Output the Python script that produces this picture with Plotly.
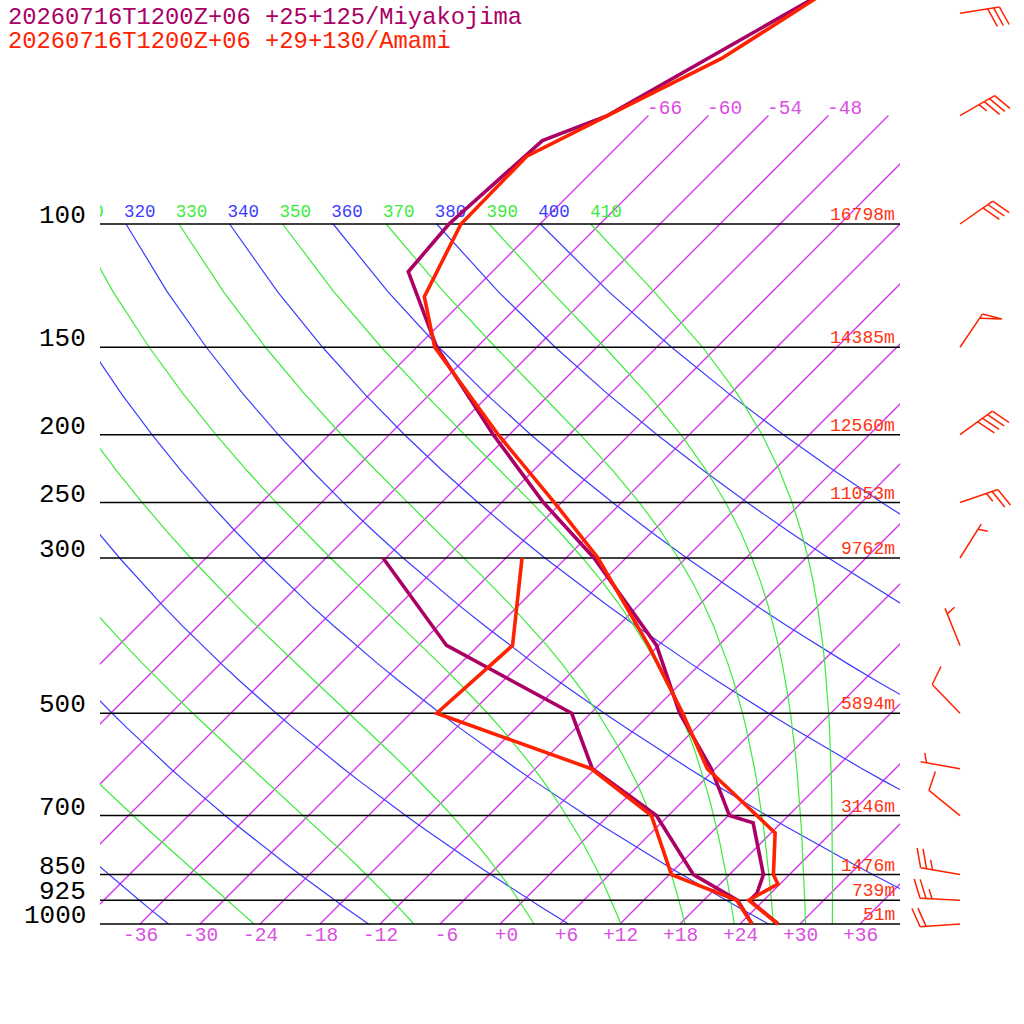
import numpy as np
import plotly.graph_objects as go

# ---------------- data ----------------
TITLE_MIYAKO = "20260716T1200Z+06 +25+125/Miyakojima"
TITLE_AMAMI = "20260716T1200Z+06 +29+130/Amami"

P_LINES = [100, 150, 200, 250, 300, 500, 700, 850, 925, 1000]
P_LABELS = ["100", "150", "200", "250", "300", "500", "700", "850", "925", "1000"]
HEIGHT_LABELS = ["16798m", "14385m", "12560m", "11053m", "9762m", "5894m",
                 "3146m", "1476m", "739m", "51m"]

ISOTHERMS = [-66, -60, -54, -48, -42, -36, -30, -24, -18, -12, -6, 0,
             6, 12, 18, 24, 30, 36]
ISOTHERM_TOP_LABELS = [-66, -60, -54, -48]
BOTTOM_TICKS = [-36, -30, -24, -18, -12, -6, 0, 6, 12, 18, 24, 30, 36]
THETA = [240, 260, 280, 300, 320, 340, 360, 380, 400]
THETA_E = [250, 270, 290, 310, 330, 350, 370, 390, 410]

MIYAKO_T_P = [1000, 925, 903, 850, 717, 700, 600, 500, 400, 300, 250, 200,
              150, 117, 100, 76, 70, 50, 40]
MIYAKO_T = [27.8, 22.6, 22.6, 21.4, 15.2, 12.1, 5.6, -3.1, -12.2, -27.2,
            -37.8, -49.6, -64.0, -74.4, -75.1, -74.1, -70.1, -62.4, -57.2]
MIYAKO_TD_P = [1000, 925, 850, 700, 600, 500, 400, 300]
MIYAKO_TD = [25.2, 21.4, 14.4, 4.8, -6.3, -13.9, -33.2, -48.3]

AMAMI_T_P = [1000, 925, 877, 850, 741, 600, 500, 400, 300, 250, 200, 150,
             127, 100, 80, 58, 50, 40]
AMAMI_T = [27.8, 22.5, 23.8, 22.4, 18.4, 5.2, -2.8, -13.0, -26.8, -36.7,
           -49.1, -64.2, -70.3, -73.9, -74.1, -64.4, -61.8, -58.1]
AMAMI_TD_P = [1000, 925, 850, 700, 600, 500, 400, 300]
AMAMI_TD = [25.2, 21.3, 12.2, 4.3, -6.4, -27.4, -26.6, -34.4]

WIND_P = [1000, 925, 850, 700, 600, 500, 400, 300, 250, 200, 150, 100, 70, 50]
AMAMI_WDIR = [266, 273, 280, 309, 280, 316, 338, 32, 71, 54, 34, 55, 60, 81]
AMAMI_WSPD = [20, 25, 25, 10, 5, 10, 5, 5, 25, 40, 50, 30, 35, 30]

# ---------------- style ----------------
C_MIYAKO = "#aa0066"
C_AMAMI = "#ff2200"
C_ISO = "rgb(216,50,240)"
C_ISO_TXT = "rgb(218,80,226)"
C_DRY = "rgb(60,60,255)"
C_MOIST = "rgb(60,235,60)"
C_HGT = "#ff3311"
FONT = "Liberation Mono"

SKEW = 70.0          # skew units per decade of pressure
PX_X = 10.0          # px per degree
PX_DEC = 700.0       # px per pressure decade


def skew_x(T, p):
    return np.asarray(T, float) + SKEW * np.log10(1000.0 / np.asarray(p, float))


def es(tc):
    return 6.112 * np.exp(17.67 * tc / (tc + 243.5))


def theta_e_sat(tk, p):
    e = es(tk - 273.15)
    r = 1000.0 * 0.622 * e / (p - e)
    return tk * (1000.0 / p) ** (0.2854 * (1 - 0.00028 * r)) * \
        np.exp((3.376 / tk - 0.00254) * r * (1 + 0.00081 * r))


def moist_T(te, p):
    lo = np.full_like(p, 150.0)
    hi = np.full_like(p, 330.0)
    for _ in range(60):
        mid = 0.5 * (lo + hi)
        f = theta_e_sat(mid, p) - te
        hi = np.where(f > 0, mid, hi)
        lo = np.where(f > 0, lo, mid)
    return 0.5 * (lo + hi) - 273.15


fig = go.Figure()
BOX = dict(xaxis="x2", yaxis="y2")

# isotherms
for t in ISOTHERMS:
    pp = [1000.0, 70.0]
    xs = [float(v) for v in skew_x([t, t], pp)]
    fig.add_trace(go.Scatter(x=xs, y=pp, mode="lines",
                             line=dict(color=C_ISO, width=1.3), hoverinfo="skip", **BOX))

lev = np.arange(100.0, 1000.1, 25.0)
for th in THETA:
    tc = th * (lev / 1000.0) ** 0.2857 - 273.15
    fig.add_trace(go.Scatter(x=skew_x(tc, lev).tolist(), y=lev.tolist(), mode="lines",
                             line=dict(color=C_DRY, width=1.2), hoverinfo="skip", **BOX))
for te in THETA_E:
    tc = moist_T(te, lev)
    fig.add_trace(go.Scatter(x=skew_x(tc, lev).tolist(), y=lev.tolist(), mode="lines",
                             line=dict(color=C_MOIST, width=1.2), hoverinfo="skip", **BOX))

# adiabat labels at 100 hPa (clipped by the box)
p_lab = 100.0 * 10 ** (-11.0 / PX_DEC)
for vals, col in ((THETA, C_DRY), (THETA_E, C_MOIST)):
    xs = [float(skew_x(v * 0.1 ** 0.2857 - 273.15, 100.0)) for v in vals]
    keep = [i for i, xv in enumerate(xs) if xv > -43.5]
    fig.add_trace(go.Scatter(x=[xs[i] - 0.2 for i in keep], y=[p_lab] * len(keep), mode="text",
                             text=[str(vals[i]) for i in keep], textposition="middle right",
                             textfont=dict(family=FONT, size=17.5, color=col),
                             hoverinfo="skip", **BOX))

# pressure lines
for p in P_LINES:
    fig.add_trace(go.Scatter(x=[-40, 40], y=[p, p], mode="lines",
                             line=dict(color="black", width=1.5), hoverinfo="skip", **BOX))

# soundings
for pT, T, pD, D, col in ((MIYAKO_T_P, MIYAKO_T, MIYAKO_TD_P, MIYAKO_TD, C_MIYAKO),
                          (AMAMI_T_P, AMAMI_T, AMAMI_TD_P, AMAMI_TD, C_AMAMI)):
    fig.add_trace(go.Scatter(x=skew_x(T, pT).tolist(), y=pT, mode="lines",
                             line=dict(color=col, width=3.6), hoverinfo="skip", **BOX))
    fig.add_trace(go.Scatter(x=skew_x(D, pD).tolist(), y=pD, mode="lines",
                             line=dict(color=col, width=3.6), hoverinfo="skip", **BOX))

# wind barbs (Amami), drawn on the full-page axes
BARB_X = 46.0
STAFF, FULL, HALF, SPACE, TILT = 40.0, 20.0, 10.0, 6.0, np.radians(20)
bx, by = [], []


def to_data(p0, dx, dy):
    return float(BARB_X + dx / PX_X), float(p0 * 10 ** (dy / PX_DEC))


def add_pts(pts):
    for q in pts:
        xx, yy = to_data(p0, *q)
        bx.append(xx); by.append(yy)
    bx.append(None); by.append(None)


for p0, d, s in zip(WIND_P, AMAMI_WDIR, AMAMI_WSPD):
    r = np.radians(d)
    u = np.array([np.sin(r), -np.cos(r)])
    perp = np.array([np.cos(r), np.sin(r)])
    bdir = np.cos(TILT) * perp + np.sin(TILT) * u
    tip = STAFF * u
    add_pts([np.zeros(2), tip])
    n50, rest = divmod(int(s), 50)
    n10, rest = divmod(rest, 10)
    n5 = rest // 5
    pos = 0.0
    for _ in range(n50):
        a = tip - pos * u
        add_pts([a, a + FULL * bdir, a - 5 * u])
        pos += 5 + SPACE
    for _ in range(n10):
        a = tip - pos * u
        add_pts([a, a + FULL * bdir])
        pos += SPACE
    if n5:
        if n50 == 0 and n10 == 0:
            pos = SPACE
        a = tip - pos * u
        add_pts([a, a + HALF * bdir])

fig.add_trace(go.Scatter(x=bx, y=by, mode="lines", line=dict(color=C_AMAMI, width=1.5),
                         hoverinfo="skip", xaxis="x", yaxis="y"))

ann = []
# pressure labels
for p, lab in zip(P_LINES, P_LABELS):
    ann.append(dict(x=-41.2, y=float(np.log10(p)), xref="x", yref="y", text=lab, showarrow=False,
                    xanchor="right", yanchor="middle", yshift=8,
                    font=dict(family=FONT, size=26, color="black")))
# heights
for p, lab in zip(P_LINES, HEIGHT_LABELS):
    ann.append(dict(x=39.7, y=float(np.log10(p)), xref="x", yref="y", text=lab, showarrow=False,
                    xanchor="right", yanchor="middle", yshift=9,
                    font=dict(family=FONT, size=18, color=C_HGT)))
# bottom temperature ticks
for t in BOTTOM_TICKS:
    lab = f"{t:+d}"
    if len(lab) < 3:
        lab = "\u00a0" + lab
    ann.append(dict(x=float(t), y=3.0, xref="x", yref="y", text=lab, showarrow=False,
                    xanchor="center", yanchor="middle", yshift=-12,
                    font=dict(family=FONT, size=19.5, color=C_ISO_TXT)))
# isotherm labels at top
for t in ISOTHERM_TOP_LABELS:
    ann.append(dict(x=float(skew_x(t, 70.0)) - 0.3, y=float(np.log10(70.0)), xref="x", yref="y",
                    text=f"{t:+d}", showarrow=False,
                    xanchor="left", yanchor="middle", yshift=7,
                    font=dict(family=FONT, size=19.5, color=C_ISO_TXT)))
# titles
ann.append(dict(x=6 / 1024, y=1 - 17 / 1024, xref="paper", yref="paper", text=TITLE_MIYAKO,
                showarrow=False, xanchor="left", yanchor="middle",
                font=dict(family=FONT, size=23.8, color=C_MIYAKO)))
ann.append(dict(x=6 / 1024, y=1 - 41 / 1024, xref="paper", yref="paper", text=TITLE_AMAMI,
                showarrow=False, xanchor="left", yanchor="middle",
                font=dict(family=FONT, size=23.8, color=C_AMAMI)))

ax_off = dict(visible=False, showgrid=False, zeroline=False, fixedrange=True)
fig.update_layout(
    width=1024, height=1024, margin=dict(l=0, r=0, t=0, b=0),
    paper_bgcolor="white", plot_bgcolor="rgba(0,0,0,0)", showlegend=False,
    xaxis=dict(domain=[0, 1], range=[-50, 52.4], **ax_off),
    yaxis=dict(domain=[0, 1], type="log", range=[3 + 100 / PX_DEC, 3 - 924 / PX_DEC], **ax_off),
    xaxis2=dict(domain=[100 / 1024, 900 / 1024], range=[-40, 40], anchor="y2", **ax_off),
    yaxis2=dict(domain=[90 / 1024, 1], type="log", range=[3 + 10 / PX_DEC, 3 - 924 / PX_DEC],
                anchor="x2", **ax_off),
    annotations=ann,
)

fig.write_html("out.html", config={"displayModeBar": False},
               post_script="document.body.style.margin='0px';document.body.style.overflow='hidden';")
